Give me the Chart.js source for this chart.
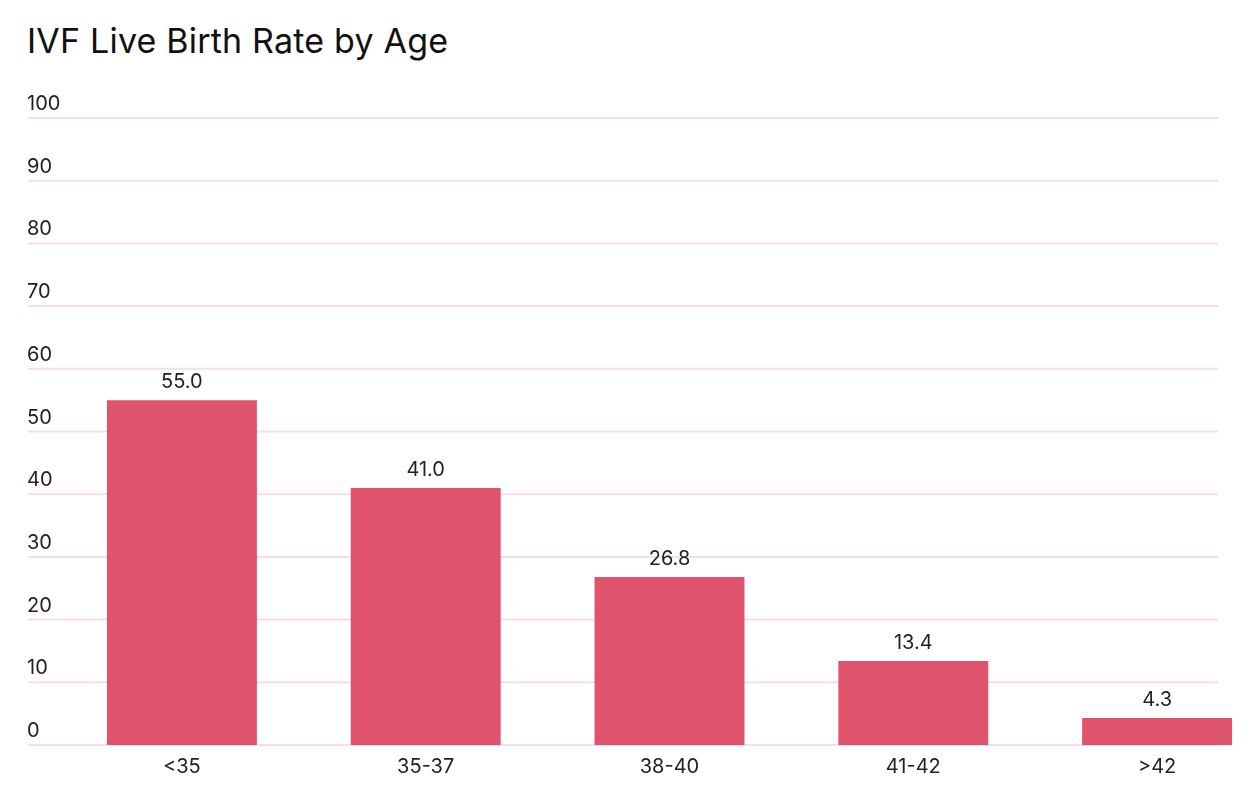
<!DOCTYPE html>
<html><head><meta charset="utf-8">
<script src="https://cdn.jsdelivr.net/npm/chart.js@4"></script>
<style>
html,body{margin:0;width:1251px;height:789px;overflow:hidden;background:#fff;font-family:Inter,"Noto Sans",sans-serif}
#title{position:absolute;left:27px;top:20px;font-size:34px;color:#111;letter-spacing:0.2px}
#wrap{position:absolute;left:0;top:0;width:1290px;height:789px}
</style></head><body>
<div id="title">IVF Live Birth Rate by Age</div>
<div id="wrap"><canvas id="c"></canvas></div>
<script>
const ageGroups = ["<35", "35-37", "38-40", "41-42", ">42"];
const birthRates = [55.0, 41.0, 26.8, 13.4, 4.3];
const yTicks = [0, 10, 20, 30, 40, 50, 60, 70, 80, 90, 100];

// gridlines + y labels drawn from the y scale, value labels above bars
const extras = {
  id: "extras",
  beforeDatasetsDraw(chart) {
    const ctx = chart.ctx, y = chart.scales.y;
    ctx.save();
    ctx.font = "20px Inter, 'Noto Sans', sans-serif";
    ctx.textBaseline = "middle";
    yTicks.forEach(t => {
      const py = y.getPixelForValue(t);
      ctx.strokeStyle = "#f5dcef";
      ctx.lineWidth = 2;
      ctx.beginPath(); ctx.moveTo(28, py); ctx.lineTo(1218, py); ctx.stroke();
      ctx.fillStyle = "#222";
      ctx.textAlign = "left";
      ctx.fillText(String(t), 27, py - 14);
    });
    ctx.restore();
  },
  afterDatasetsDraw(chart) {
    const ctx = chart.ctx;
    ctx.save();
    ctx.font = "20px Inter, 'Noto Sans', sans-serif";
    ctx.fillStyle = "#222";
    ctx.textAlign = "center";
    ctx.textBaseline = "bottom";
    chart.getDatasetMeta(0).data.forEach((bar, i) => {
      ctx.fillText(birthRates[i].toFixed(1), bar.x, bar.y - 8);
    });
    ctx.restore();
  }
};

new Chart(document.getElementById("c"), {
  type: "bar",
  data: {
    labels: ageGroups,
    datasets: [{ data: birthRates, backgroundColor: "#e0536c", barPercentage: 1, categoryPercentage: 0.615 }]
  },
  options: {
    responsive: true,
    maintainAspectRatio: false,
    animation: false,
    layout: { padding: { left: 60, right: 11, top: 118, bottom: 8 } },
    plugins: { legend: { display: false }, tooltip: { enabled: false } },
    scales: {
      x: {
        grid: { display: false },
        border: { display: false },
        ticks: { color: "#222", font: { size: 20, family: "Inter, 'Noto Sans', sans-serif" }, padding: 2 }
      },
      y: { display: false, min: 0, max: 100 }
    }
  },
  plugins: [extras]
});
</script>
</body></html>
